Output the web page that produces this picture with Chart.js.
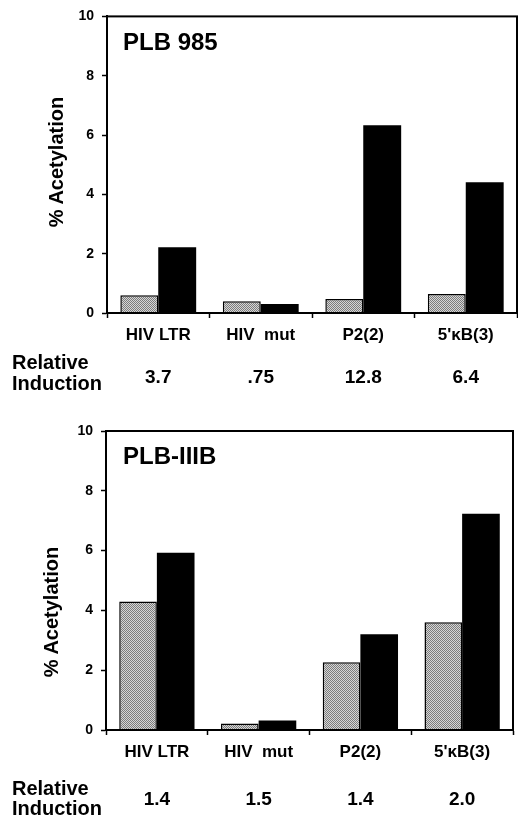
<!DOCTYPE html>
<html>
<head>
<meta charset="utf-8">
<script src="https://cdn.jsdelivr.net/npm/chart.js@4"></script>
<style>
  html, body { margin: 0; padding: 0; background: #fff; }
  body {
    width: 518px; height: 815px; position: relative; overflow: hidden;
    font-family: "Liberation Sans", Arial, Helvetica, sans-serif;
    font-weight: bold; color: #000;
  }
  .panel { position: absolute; left: 0; width: 518px; }
  .panel canvas { display: block; }
  .name { position: absolute; left: 123px; font-size: 24px; line-height: 24px; white-space: nowrap; }
  .ytitle {
    position: absolute; font-size: 20px; line-height: 20px; white-space: nowrap;
    transform: translate(-50%, -50%) rotate(-90deg);
  }
  .rel { position: absolute; left: 12px; font-size: 20px; line-height: 21px; }
</style>
</head>
<body>

<div class="panel" style="top:0;height:400px"><canvas id="chart-top" width="518" height="400"></canvas></div>
<div class="panel" style="top:400px;height:415px"><canvas id="chart-bottom" width="518" height="415"></canvas></div>

<div class="name" style="top:30px">PLB 985</div>
<div class="name" style="top:444px">PLB-IIIB</div>
<div class="ytitle" style="left:56px;top:162px">% Acetylation</div>
<div class="ytitle" style="left:51px;top:612px">% Acetylation</div>
<div class="rel" style="top:352px">Relative<br>Induction</div>
<div class="rel" style="top:778px;line-height:20px">Relative<br>Induction</div>

<script>
'use strict';

// ===== データ =====
const categories = ['HIV LTR', 'HIV  mut', 'P2(2)', "5'\u03BAB(3)"];
const yTicks = [0, 2, 4, 6, 8, 10];

// PLB 985
const plb985Basal     = [0.6, 0.4, 0.47, 0.64];
const plb985Induced   = [2.22, 0.3, 6.33, 4.41];
const plb985Induction = ['3.7', '.75', '12.8', '6.4'];

// PLB-IIIB
const plbIIIBBasal     = [4.3, 0.22, 2.27, 3.6];
const plbIIIBInduced   = [5.93, 0.32, 3.2, 7.23];
const plbIIIBInduction = ['1.4', '1.5', '1.4', '2.0'];

// ===== 共通設定 =====
Chart.defaults.font.family = '"Liberation Sans", Arial, Helvetica, sans-serif';
Chart.defaults.font.weight = 'bold';
Chart.defaults.color = '#000';

// 網点っぽいグレー
function makeDither() {
  const c = document.createElement('canvas');
  c.width = 2; c.height = 2;
  const g = c.getContext('2d');
  g.fillStyle = '#d6d6d6'; g.fillRect(0, 0, 2, 2);
  g.fillStyle = '#7c7c7c'; g.fillRect(0, 0, 1, 1); g.fillRect(1, 1, 1, 1);
  return g.createPattern(c, 'repeat');
}
const dither = makeDither();

// 枠線
const framePlugin = {
  id: 'frame',
  afterDatasetsDraw(chart) {
    const { ctx, chartArea: a } = chart;
    ctx.save();
    ctx.strokeStyle = '#000';
    ctx.lineWidth = 2;
    ctx.strokeRect(a.left, a.top, a.right - a.left, a.bottom - a.top);
    ctx.restore();
  }
};

function makeChart(id, basal, induced, induction, o) {
  return new Chart(document.getElementById(id), {
    type: 'bar',
    data: {
      labels: categories,
      datasets: [
        { data: basal, backgroundColor: dither, borderColor: '#000', borderWidth: 1.5 },
        { data: induced, backgroundColor: '#000', borderColor: '#000', borderWidth: 0 },
      ],
    },
    options: {
      responsive: false,
      animation: false,
      events: [],
      categoryPercentage: 0.74,
      barPercentage: 1.0,
      layout: { padding: { top: o.padTop, right: o.padRight, left: 0, bottom: 0 } },
      plugins: { legend: { display: false }, tooltip: { enabled: false } },
      scales: {
        x: {
          offset: true,
          weight: 0,
          grid: { offset: true, drawOnChartArea: false, drawTicks: true, tickLength: 5, tickColor: '#000', tickWidth: 1.5 },
          border: { display: true, color: '#000', width: 2 },
          ticks: { font: { size: 17, weight: 'bold' }, padding: 7, maxRotation: 0, autoSkip: false },
          afterFit: s => { s.height = 40; },
        },
        x2: {
          type: 'category',
          position: 'bottom',
          weight: 1,
          offset: true,
          labels: induction,
          grid: { display: false, drawTicks: false },
          border: { display: false },
          ticks: { font: { size: 19, weight: 'bold' }, padding: o.x2pad, maxRotation: 0, autoSkip: false },
          afterFit: s => { s.height = o.x2height; },
        },
        y: {
          min: yTicks[0],
          max: yTicks[yTicks.length - 1],
          afterBuildTicks: s => { s.ticks = yTicks.map(v => ({ value: v })); },
          ticks: { font: { size: 14, weight: 'bold' }, padding: 8 },
          grid: { drawOnChartArea: false, tickLength: 5, tickColor: '#000', tickWidth: 1.5 },
          border: { color: '#000', width: 2 },
          afterFit: s => { s.width = o.yWidth; },
        },
      },
    },
    plugins: [framePlugin],
  });
}

makeChart('chart-top', plb985Basal, plb985Induced, plb985Induction,
  { padTop: 16, padRight: 1, yWidth: 107, x2pad: 13, x2height: 47 });
makeChart('chart-bottom', plbIIIBBasal, plbIIIBInduced, plbIIIBInduction,
  { padTop: 31, padRight: 5, yWidth: 106, x2pad: 18, x2height: 45 });
</script>
</body>
</html>
